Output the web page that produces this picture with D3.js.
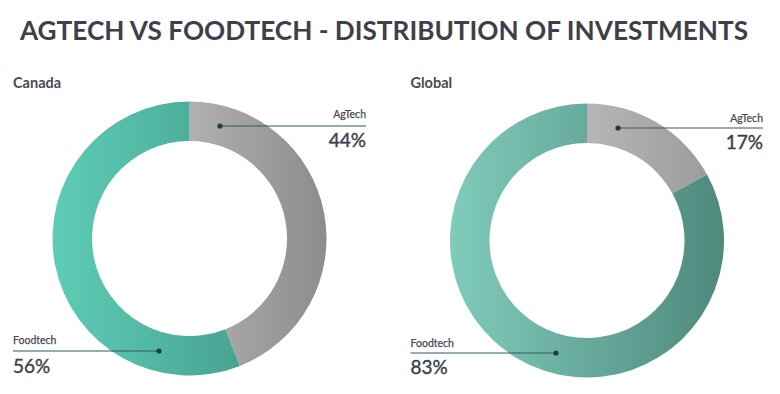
<!DOCTYPE html>
<html><head><meta charset="utf-8">
<script src="https://cdn.jsdelivr.net/npm/d3@7"></script>
<style>body{margin:0;background:#fff;}svg{display:block;font-family:Lato,sans-serif;}</style>
</head><body>
<svg id="c" width="780" height="394"></svg>
<script>
const title = "AGTECH VS FOODTECH - DISTRIBUTION OF INVESTMENTS";
const regions = ["Canada", "Global"];
const categories = ["AgTech", "Foodtech"];
const canadaValues = [44, 56];
const globalValues = [17, 83];

const svg = d3.select("#c");
svg.append("text").attr("x", 384).attr("y", 39.5).attr("text-anchor", "middle")
  .attr("font-size", 26.2).attr("font-weight", 700).attr("fill", "#3e3f4b").text(title);

const panels = [
  {name: regions[0], values: canadaValues, cx: 189.5, cy: 238.5, tx: 13, right: 366,
   grad: [["#d4d4d4","#8c8c8c"],["#5ecdb6","#3d9080"]],
   ag: {ty: 118, ly: 126, dx: 220, py: 147}, fd: {ty: 344, ly: 351, dx: 159, py: 372.5}},
  {name: regions[1], values: globalValues, cx: 587, cy: 240.5, tx: 410.5, right: 763,
   grad: [["#d2d2d2","#999999"],["#80cbbb","#4e897c"]],
   ag: {ty: 122, ly: 128, dx: 618, py: 149}, fd: {ty: 347, ly: 353, dx: 556, py: 374}}
];

const defs = svg.append("defs");
const outerR = 137, innerR = 97.5;
const arc = d3.arc().innerRadius(innerR).outerRadius(outerR);
const pie = d3.pie().sort(null).value(d => d);

panels.forEach((p, pi) => {
  const g = svg.append("g");
  g.append("text").attr("x", p.tx).attr("y", 88).attr("font-size", 14.5).attr("font-weight", 700)
    .attr("fill", "#4a4a52").text(p.name);
  p.grad.forEach((c, ci) => {
    const lg = defs.append("linearGradient").attr("id", `g${pi}_${ci}`)
      .attr("gradientUnits", "userSpaceOnUse")
      .attr("x1", -outerR).attr("x2", outerR).attr("y1", 0).attr("y2", 0);
    lg.append("stop").attr("offset", 0).attr("stop-color", c[0]);
    lg.append("stop").attr("offset", 1).attr("stop-color", c[1]);
  });
  const dg = g.append("g").attr("transform", `translate(${p.cx},${p.cy})`);
  dg.selectAll("path").data(pie(p.values)).join("path")
    .attr("d", arc).attr("fill", (d, i) => `url(#g${pi}_${i})`);

  const a = p.ag;
  g.append("line").attr("x1", a.dx).attr("x2", p.right).attr("y1", a.ly).attr("y2", a.ly)
    .attr("stroke", "#2f5f57").attr("stroke-width", 1);
  g.append("circle").attr("cx", a.dx).attr("cy", a.ly).attr("r", 2.6).attr("fill", "#1f3f3a");
  g.append("text").attr("x", p.right).attr("y", a.ty).attr("text-anchor", "end")
    .attr("font-size", 10.5).attr("fill", "#4a4a52").attr("stroke", "#4a4a52").attr("stroke-width", 0.25)
    .text(categories[0]);
  g.append("text").attr("x", p.right).attr("y", a.py).attr("text-anchor", "end")
    .attr("font-size", 19).attr("fill", "#3e3f4b").attr("stroke", "#3e3f4b").attr("stroke-width", 0.4)
    .text(p.values[0] + "%");
  const f = p.fd;
  g.append("line").attr("x1", p.tx).attr("x2", f.dx).attr("y1", f.ly).attr("y2", f.ly)
    .attr("stroke", "#2f5f57").attr("stroke-width", 1);
  g.append("circle").attr("cx", f.dx).attr("cy", f.ly).attr("r", 2.6).attr("fill", "#1f3f3a");
  g.append("text").attr("x", p.tx).attr("y", f.ty)
    .attr("font-size", 10.5).attr("fill", "#4a4a52").attr("stroke", "#4a4a52").attr("stroke-width", 0.25)
    .text(categories[1]);
  g.append("text").attr("x", p.tx).attr("y", f.py)
    .attr("font-size", 19).attr("fill", "#3e3f4b").attr("stroke", "#3e3f4b").attr("stroke-width", 0.4)
    .text(p.values[1] + "%");
});
</script>
</body></html>
